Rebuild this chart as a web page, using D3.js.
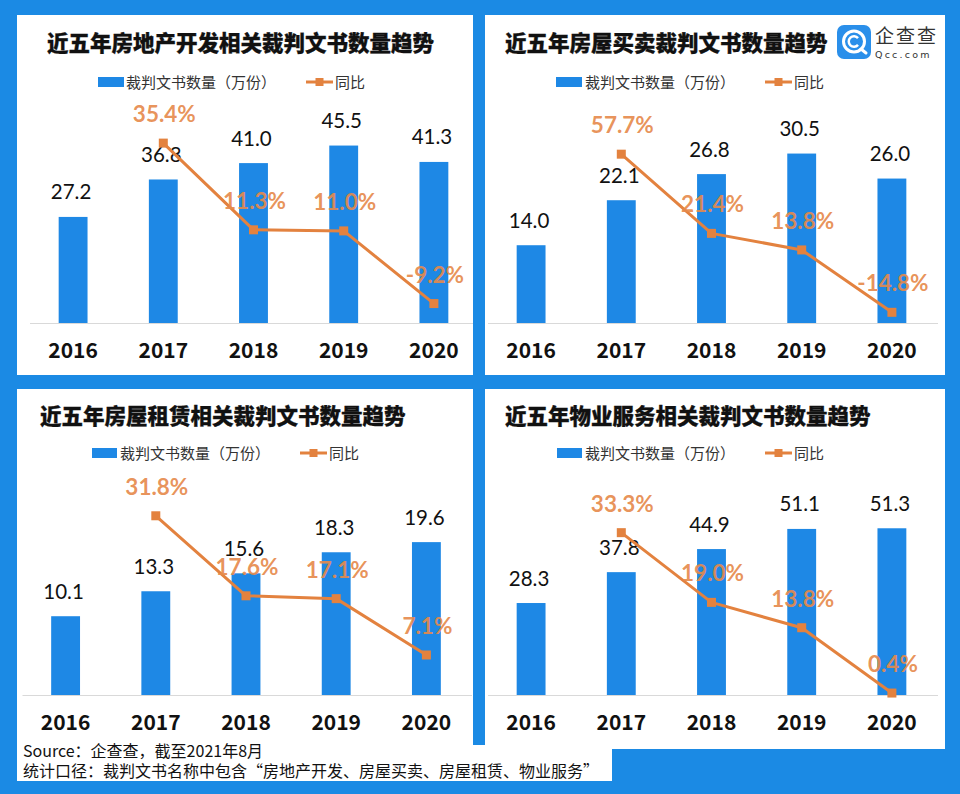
<!DOCTYPE html>
<html><head><meta charset="utf-8">
<script src="https://cdn.jsdelivr.net/npm/d3@7"></script>
<style>
html,body{margin:0;padding:0;background:#1B8AE4;}
svg{display:block;}
</style></head>
<body>
<svg id="chart" width="960" height="794"></svg>
<script>
// ---------- data ----------
const years = ["2016", "2017", "2018", "2019", "2020"];
const titles = [
  "近五年房地产开发相关裁判文书数量趋势",
  "近五年房屋买卖裁判文书数量趋势",
  "近五年房屋租赁相关裁判文书数量趋势",
  "近五年物业服务相关裁判文书数量趋势"
];
const legendLabels = ["裁判文书数量（万份）", "同比"];
const devCounts   = [27.2, 36.8, 41.0, 45.5, 41.3];
const devYoY      = [null, 35.4, 11.3, 11.0, -9.2];
const tradeCounts = [14.0, 22.1, 26.8, 30.5, 26.0];
const tradeYoY    = [null, 57.7, 21.4, 13.8, -14.8];
const leaseCounts = [10.1, 13.3, 15.6, 18.3, 19.6];
const leaseYoY    = [null, 31.8, 17.6, 17.1, 7.1];
const propCounts  = [28.3, 37.8, 44.9, 51.1, 51.3];
const propYoY     = [null, 33.3, 19.0, 13.8, 0.4];
const sourceLines = [
  "Source：企查查，截至2021年8月",
  "统计口径：裁判文书名称中包含“房地产开发、房屋买卖、房屋租赁、物业服务”"
];

// ---------- layout ----------
const BLUE = "#1E88E5", ORANGE = "#E3823F", PCT = "#E68A4C";
const svg = d3.select("#chart");
svg.append("rect").attr("width", 960).attr("height", 794).attr("fill", "#1B8AE4");

const panels = [
  {counts: devCounts, yoy: devYoY, title: titles[0],
   box: [17, 15, 456, 360], titleX: 47, titleY: 51,
   leg: {y: 82, rectX: 98, rectW: 26, textX: 126, lineX: 306},
   band: [28, 479], base: 323, H: 195, barMax: 50, pct: [-14.6, 39.6], lineEnd: 473},
  {counts: tradeCounts, yoy: tradeYoY, title: titles[1],
   box: [485, 15, 460, 360], titleX: 505, titleY: 51,
   leg: {y: 82, rectX: 556, rectW: 26, textX: 585, lineX: 765},
   band: [486, 937], base: 323, H: 195, barMax: 35.1, pct: [-19.7, 69.7], lineEnd: 938},
  {counts: leaseCounts, yoy: leaseYoY, title: titles[2],
   box: [17, 389, 456, 392], titleX: 40, titleY: 424,
   leg: {y: 453, rectX: 92, rectW: 25, textX: 120, lineX: 300},
   band: [20.5, 471.5], base: 695, H: 195, barMax: 25, pct: [0, 34.6], lineEnd: 472},
  {counts: propCounts, yoy: propYoY, title: titles[3],
   box: [485, 389, 460, 360], titleX: 505, titleY: 424,
   leg: {y: 453, rectX: 557, rectW: 25, textX: 585, lineX: 765},
   band: [486, 937], base: 695, H: 195, barMax: 60, pct: [0, 40], lineEnd: 938}
];

// white panels
panels.forEach(p => {
  svg.append("rect").attr("x", p.box[0]).attr("y", p.box[1])
    .attr("width", p.box[2]).attr("height", p.box[3]).attr("fill", "#fff");
});
// white strip behind the source note continuing to the right
svg.append("rect").attr("x", 470).attr("y", 745).attr("width", 142).attr("height", 36).attr("fill", "#fff");

panels.forEach(p => {
  const g = svg.append("g");
  // title
  g.append("text").attr("x", p.titleX).attr("y", p.titleY)
    .attr("font-family", "Noto Sans CJK SC").attr("font-weight", 900)
    .attr("font-size", 21.5).attr("fill", "#111")
    .attr("stroke", "#111").attr("stroke-width", 0.3).text(p.title);
  // legend
  const L = p.leg;
  g.append("rect").attr("x", L.rectX).attr("y", L.y - 5).attr("width", L.rectW).attr("height", 10).attr("fill", BLUE);
  g.append("text").attr("x", L.textX).attr("y", L.y + 5.5)
    .attr("font-family", "Noto Sans CJK SC").attr("font-size", 15).attr("fill", "#333").text(legendLabels[0]);
  g.append("line").attr("x1", L.lineX).attr("x2", L.lineX + 27).attr("y1", L.y).attr("y2", L.y)
    .attr("stroke", ORANGE).attr("stroke-width", 3);
  g.append("rect").attr("x", L.lineX + 13.5 - 4).attr("y", L.y - 4).attr("width", 8).attr("height", 8).attr("fill", ORANGE);
  g.append("text").attr("x", L.lineX + 29).attr("y", L.y + 5.5)
    .attr("font-family", "Noto Sans CJK SC").attr("font-size", 15).attr("fill", "#333").text(legendLabels[1]);

  // scales
  const x = d3.scaleBand().domain(years).range(p.band).paddingInner(0.68).paddingOuter(0.34);
  const y = d3.scaleLinear().domain([0, p.barMax]).range([p.base, p.base - p.H]);
  const y2 = d3.scaleLinear().domain(p.pct).range([p.base, p.base - p.H]);
  const cx = d => x(d) + x.bandwidth() / 2;

  // axis
  const ax = g.append("g").attr("transform", `translate(0,${p.base})`)
    .call(d3.axisBottom(x).tickSize(0).tickSizeOuter(0).tickPadding(20));
  ax.select(".domain").attr("stroke", "#D9D9D9").attr("stroke-width", 1)
    .attr("d", `M${p.band[0] + 2},0.5H${p.lineEnd}`);
  ax.selectAll("text").attr("font-family", "Noto Sans CJK SC").attr("font-weight", 700)
    .attr("font-size", 21).attr("fill", "#111");

  const rows = years.map((yr, i) => ({yr, v: p.counts[i], r: p.yoy[i]}));
  // bars
  g.selectAll(".bar").data(rows).join("rect")
    .attr("x", d => x(d.yr)).attr("width", x.bandwidth())
    .attr("y", d => y(d.v)).attr("height", d => y(0) - y(d.v)).attr("fill", BLUE);
  g.selectAll(".bl").data(rows).join("text")
    .attr("x", d => cx(d.yr) - 2).attr("y", d => y(d.v) - 17.5)
    .attr("text-anchor", "middle").attr("font-family", "Lato").attr("font-size", 20.5)
    .attr("fill", "#111").text(d => d.v.toFixed(1));

  // line
  const pts = rows.filter(d => d.r !== null);
  g.append("path").datum(pts)
    .attr("d", d3.line().x(d => cx(d.yr)).y(d => y2(d.r)))
    .attr("fill", "none").attr("stroke", ORANGE).attr("stroke-width", 3).attr("stroke-linejoin", "round");
  g.selectAll(".mk").data(pts).join("rect")
    .attr("x", d => cx(d.yr) - 4.5).attr("y", d => y2(d.r) - 4.5)
    .attr("width", 9).attr("height", 9).attr("fill", ORANGE);
  g.selectAll(".pl").data(pts).join("text")
    .attr("x", d => cx(d.yr) + 1).attr("y", d => y2(d.r) - 21)
    .attr("text-anchor", "middle").attr("font-family", "Lato").attr("font-weight", 700)
    .attr("font-size", 22.5).attr("fill", PCT).attr("fill-opacity", 0.92)
    .text(d => d.r.toFixed(1) + "%");
});

// logo
const logo = svg.append("g");
logo.append("rect").attr("x", 837).attr("y", 25).attr("width", 34).attr("height", 34).attr("rx", 7).attr("fill", "#2A8FEA");
logo.append("circle").attr("cx", 854).attr("cy", 41.5).attr("r", 10.5).attr("fill", "none").attr("stroke", "#fff").attr("stroke-width", 3);
logo.append("path").attr("d", d3.arc()({innerRadius: 4, outerRadius: 6.5, startAngle: 0.7, endAngle: 2 * Math.PI - 0.7}))
  .attr("transform", "translate(854,41.5) rotate(90)").attr("fill", "#fff");
logo.append("line").attr("x1", 861).attr("y1", 49).attr("x2", 866).attr("y2", 53).attr("stroke", "#fff").attr("stroke-width", 3).attr("stroke-linecap", "round");
logo.append("text").attr("x", 875).attr("y", 43).attr("font-family", "Noto Sans CJK SC")
  .attr("font-size", 19).attr("letter-spacing", 2).attr("fill", "#333").text("企查查");
logo.append("text").attr("x", 875).attr("y", 57.5).attr("font-family", "DejaVu Sans")
  .attr("font-size", 9.5).attr("letter-spacing", 2.2).attr("fill", "#333").text("Qcc.com");

// source note (one text block, two lines)
const note = svg.append("text").attr("x", 23).attr("y", 757)
  .attr("font-family", "Noto Sans CJK SC").attr("font-size", 16).attr("fill", "#111");
note.selectAll("tspan").data(sourceLines).join("tspan")
  .attr("x", 23).attr("dy", (d, i) => i === 0 ? 0 : 19.5).text(d => d);
</script>
</body></html>
